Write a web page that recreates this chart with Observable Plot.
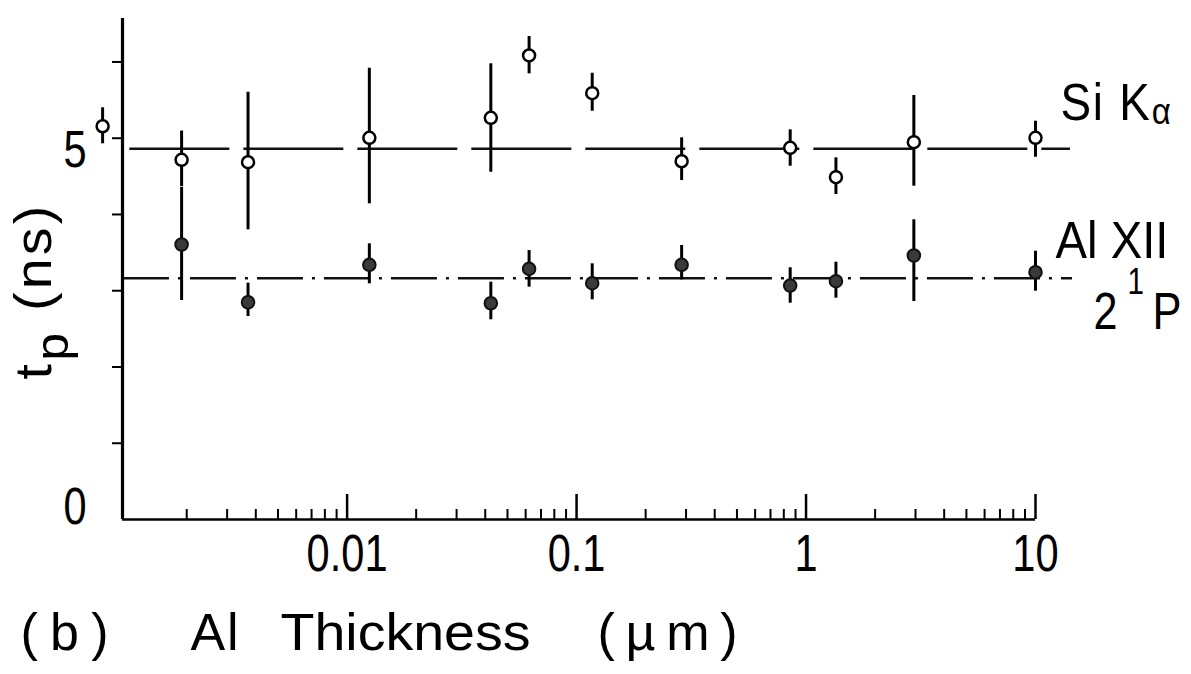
<!DOCTYPE html>
<html>
<head>
<meta charset="utf-8">
<script src="https://cdn.jsdelivr.net/npm/d3@7"></script>
<script src="https://cdn.jsdelivr.net/npm/@observablehq/plot@0.6"></script>
<style>
html, body { margin: 0; padding: 0; background: #fff; }
svg { display: block; }
</style>
</head>
<body>
<div id="chart"></div>
<script>
// ---- Data ----
// Si K-alpha (open circles)
const siX  = [0.00086, 0.0019, 0.0037, 0.0125, 0.0423, 0.0621, 0.117, 0.287, 0.853, 1.35, 2.95, 10];
const siY  = [5.157, 4.717, 4.685, 5.005, 5.268, 6.085, 5.590, 4.698, 4.874, 4.489, 4.948, 5.005];
const siLo = [4.927, 4.367, 3.799, 4.140, 4.554, 5.844, 5.354, 4.445, 4.633, 4.262, 4.371, 4.751];
const siHi = [5.399, 5.094, 5.603, 5.918, 5.976, 6.334, 5.852, 5.005, 5.110, 4.743, 5.560, 5.223];
// Al XII 2^1P (filled circles)
const alX  = [0.0019, 0.0037, 0.0125, 0.0423, 0.0621, 0.117, 0.287, 0.853, 1.35, 2.95, 10];
const alY  = [3.606, 2.849, 3.340, 2.836, 3.287, 3.099, 3.340, 3.068, 3.125, 3.462, 3.243];
const alLo = [2.872, 2.662, 3.091, 2.619, 3.046, 2.881, 3.143, 2.836, 2.902, 2.859, 2.994];
const alHi = [4.357, 3.099, 3.615, 3.112, 3.527, 3.353, 3.593, 3.301, 3.374, 3.930, 3.518];
// mean lines
const siFit = 4.861;
const alFit = 3.164;
const siFitRange = [0.00113, 14.2];
const alFitRange = [0.00106, 14.5];
// axes
const xDomain = [0.00105, 10];
const yDomain = [0, 6.57];
const majorTicks = [0.01, 0.1, 1, 10];
const minorTicks = [0.002, 0.003, 0.004, 0.005, 0.006, 0.007, 0.008, 0.009,
                    0.02, 0.03, 0.04, 0.05, 0.06, 0.07, 0.08, 0.09,
                    0.2, 0.3, 0.4, 0.5, 0.6, 0.7, 0.8, 0.9,
                    2, 3, 4, 5, 6, 7, 8, 9];
const yTicks = [1, 2, 3, 4, 5, 6];
const yLabelTop = [5];
const yLabelBottom = [0];
// texts
const yLabel = "t_p (ns)";
const xLabelWords = ["(b)", "Al", "Thickness", "(\u00b5m)"];
const siLabel = "Si K_α";
const alLabel1 = "Al XII";
const alLabel2Parts = ["2", "1", "P"];   // 2 ¹P (superscript 1)

const FONT = '"Liberation Sans", "DejaVu Sans", sans-serif';

const si = siX.map((x, i) => ({x, y: siY[i], lo: siLo[i], hi: siHi[i]}));
const al = alX.map((x, i) => ({x, y: alY[i], lo: alLo[i], hi: alHi[i]}));

// x-label words: offset from the frame's left edge and target width (px)
const xWordStyle = [{dx: -102, w: 88}, {dx: 68, w: 48}, {dx: 158, w: 250}, {dx: 475, w: 140}];
// 2 ¹P pieces: offset from x=10, vertical offset from the Al mean line, size, width
const alLabel2Style = [{dx: 58, dy: 34, fs: 52, w: 24}, {dx: 92, dy: 3.5, fs: 37, w: 0}, {dx: 117, dy: 34, fs: 52, w: 29}];

const plot = Plot.plot({
  width: 1191,
  height: 674,
  marginTop: 18,
  marginRight: 156,
  marginBottom: 155,
  marginLeft: 122,
  x: {type: "log", domain: xDomain},
  y: {domain: yDomain},
  style: {fontFamily: FONT, background: "#fff", color: "#000", overflow: "visible"},
  marks: [
    // mean lines
    Plot.ruleY([siFit], {x1: siFitRange[0], x2: siFitRange[1], stroke: "#111", strokeWidth: 2.5, strokeDasharray: "100 14"}),
    Plot.ruleY([alFit], {x1: alFitRange[0], x2: alFitRange[1], stroke: "#111", strokeWidth: 2.5, strokeDasharray: "46 9 3 9"}),
    // axis lines
    Plot.ruleX([xDomain[0]], {stroke: "#000", strokeWidth: 3.2}),
    Plot.ruleY([0], {stroke: "#000", strokeWidth: 2.5}),
    // ticks (inside for x, outside for y)
    Plot.ruleX(minorTicks, {y1: 0, y2: 0, insetBottom: 10, stroke: "#000", strokeWidth: 2}),
    Plot.ruleX(majorTicks, {y1: 0, y2: 0, insetBottom: 25, stroke: "#000", strokeWidth: 2.5}),
    Plot.ruleY(yTicks, {x1: xDomain[0], x2: xDomain[0], insetRight: 10, stroke: "#000", strokeWidth: 2}),
    Plot.axisX({ticks: majorTicks, tickSize: 0, tickPadding: 15, fontSize: 52, tickFormat: d => String(d), label: null}),
    Plot.axisY({ticks: yLabelTop, tickSize: 0, tickPadding: 36, fontSize: 52, dy: 12, tickFormat: d => String(d), label: null}),
    Plot.axisY({ticks: yLabelBottom, tickSize: 0, tickPadding: 36, fontSize: 52, dy: -12, tickFormat: d => String(d), label: null}),
    // error bars
    Plot.ruleX(si, {x: "x", y1: "lo", y2: "hi", stroke: "#000", strokeWidth: 3}),
    Plot.ruleX(al, {x: "x", y1: "lo", y2: "hi", stroke: "#000", strokeWidth: 3}),
    // points
    Plot.dot(si, {x: "x", y: "y", r: 6, fill: "#fff", stroke: "#000", strokeWidth: 2.5}),
    Plot.dot(al, {x: "x", y: "y", r: 6.3, fill: "#3a3a3a", stroke: "#111", strokeWidth: 2}),
    // labels
    Plot.text([yLabel], {text: d => d, frameAnchor: "left", dx: -88, dy: 22, rotate: -90, fontSize: 52, textAnchor: "middle", lineAnchor: "middle", fill: "#000"}),
    ...xLabelWords.map((w, i) => Plot.text([w], {text: d => d, frameAnchor: "bottom-left", dx: xWordStyle[i].dx, dy: 114, fontSize: 52, textAnchor: "start", lineAnchor: "middle", fill: "#000"})),
    Plot.text([siLabel], {text: d => d, x: xDomain[1], y: siFit, dx: 25, dy: -45, fontSize: 52, textAnchor: "start", lineAnchor: "middle", fill: "#000"}),
    Plot.text([alLabel1], {text: d => d, x: xDomain[1], y: alFit, dx: 20, dy: -37, fontSize: 52, textAnchor: "start", lineAnchor: "middle", fill: "#000"}),
    ...alLabel2Parts.map((t, i) => Plot.text([t], {text: d => d, x: xDomain[1], y: alFit, dx: alLabel2Style[i].dx, dy: alLabel2Style[i].dy, fontSize: alLabel2Style[i].fs, textAnchor: "start", lineAnchor: "middle", fill: "#000"}))
  ]
});

// rich text: subscripts as tspans (baseline-shift in px, size in em)
function findText(svg, match) {
  return d3.select(svg).selectAll("text").filter(function() { return this.textContent === match; });
}
function setRich(svg, match, parts, letterSpacing) {
  findText(svg, match).each(function() {
    const el = d3.select(this);
    el.text(null);
    for (const [t, shift, scale] of parts) {
      const ts = el.append("tspan").text(t);
      if (shift) ts.attr("baseline-shift", shift);
      if (scale !== 1) ts.attr("font-size", scale + "em");
    }
    if (letterSpacing) el.style("letter-spacing", letterSpacing);
  });
}
setRich(plot, yLabel, [["t", 0, 1], ["p", -17, 0.9], ["\u00a0(ns)", 0, 1]], "3px");
setRich(plot, siLabel, [["Si K", 0, 1], ["α", -4, 0.72]], "2px");

document.getElementById("chart").appendChild(plot);

// condense glyphs (reference lettering is narrow)
function squeeze(sel, f) {
  sel.each(function() {
    const len = this.getComputedTextLength();
    this.setAttribute("textLength", (len * f).toFixed(1));
    this.setAttribute("lengthAdjust", "spacingAndGlyphs");
  });
}
function fitWidth(sel, w, mode) {
  sel.attr("textLength", w).attr("lengthAdjust", mode);
}
const allTexts = d3.select(plot).selectAll("text");
squeeze(allTexts.filter(function() { return /^(0\.0?1|10|1|5|0)$/.test(this.textContent) && this.getAttribute("font-size") !== "37"; }), 0.8);
fitWidth(findText(plot, "Si K\u03b1"), 112, "spacingAndGlyphs");
fitWidth(findText(plot, alLabel1), 113, "spacingAndGlyphs");
fitWidth(findText(plot, "tp\u00a0(ns)"), 177, "spacingAndGlyphs");
// 2 and P of the second Al label
alLabel2Parts.forEach((t, i) => {
  if (alLabel2Style[i].w) {
    findText(plot, t).filter(function() {
      const g = this.closest("g");
      return g && g.getAttribute("font-size") === "52" && !g.getAttribute("aria-label")?.includes("axis");
    }).attr("textLength", alLabel2Style[i].w).attr("lengthAdjust", "spacingAndGlyphs");
  }
});
// x-label words: spread to the widths of the reference lettering
xLabelWords.forEach((w, i) => {
  const lengthMode = (w === "Thickness") ? "spacingAndGlyphs" : "spacing";
  fitWidth(findText(plot, w), xWordStyle[i].w, lengthMode);
});
</script>
</body>
</html>
